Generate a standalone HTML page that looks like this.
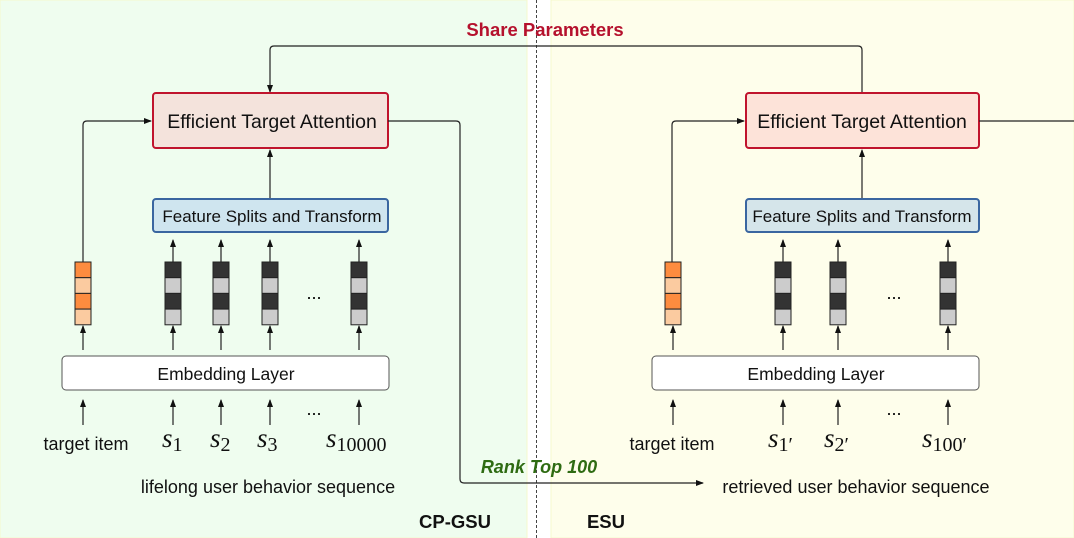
<!DOCTYPE html>
<html><head><meta charset="utf-8"><style>
body{margin:0;background:#fff;}
svg{display:block;font-family:"Liberation Sans",sans-serif;}
</style></head><body>
<svg width="1074" height="538" viewBox="0 0 1074 538" xmlns="http://www.w3.org/2000/svg">
<defs>
<marker id="a" markerWidth="8" markerHeight="8" refX="7" refY="4" orient="auto" markerUnits="userSpaceOnUse">
<path d="M0,1 L8,4 L0,7 Z" fill="#111"/></marker>
<g id="orv">
<rect x="0" y="0" width="16" height="15.7" fill="#fd8c3f" stroke="#222" stroke-width="1"/>
<rect x="0" y="15.7" width="16" height="15.7" fill="#fbcba0" stroke="#222" stroke-width="1"/>
<rect x="0" y="31.4" width="16" height="15.7" fill="#fd8c3f" stroke="#222" stroke-width="1"/>
<rect x="0" y="47.1" width="16" height="15.7" fill="#fbcba0" stroke="#222" stroke-width="1"/>
</g>
<g id="gv">
<rect x="0" y="0" width="16" height="15.7" fill="#333" stroke="#222" stroke-width="1"/>
<rect x="0" y="15.7" width="16" height="15.7" fill="#ccc" stroke="#222" stroke-width="1"/>
<rect x="0" y="31.4" width="16" height="15.7" fill="#333" stroke="#222" stroke-width="1"/>
<rect x="0" y="47.1" width="16" height="15.7" fill="#ccc" stroke="#222" stroke-width="1"/>
</g>
</defs>
<rect x="0" y="0" width="527" height="538" fill="#effdef" stroke="#f6f9cc"/>
<rect x="551" y="0" width="523" height="538" fill="#fefeeb" stroke="#f6f9cc"/>
<line x1="536.5" y1="0" x2="536.5" y2="538" stroke="#444" stroke-dasharray="3,2"/>

<text x="545" y="36" font-size="18.5" font-weight="bold" fill="#b5112d" text-anchor="middle">Share Parameters</text>
<path d="M862,93 L862,50 Q862,46 858,46 L274,46 Q270,46 270,50 L270,92" fill="none" stroke="#222" stroke-width="1.2" marker-end="url(#a)"/>

<!-- LEFT -->
<rect x="153" y="93" width="235" height="55" rx="3" fill="#f4e3dc" stroke="#c0142d" stroke-width="2"/>
<text x="272" y="128" font-size="19.5" text-anchor="middle" fill="#111">Efficient Target Attention</text>
<rect x="153" y="199" width="235" height="33" rx="3" fill="#cfe5ef" stroke="#3a66a0" stroke-width="2"/>
<text x="272" y="222" font-size="17" text-anchor="middle" fill="#111">Feature Splits and Transform</text>
<line x1="270" y1="198" x2="270" y2="150" stroke="#222" stroke-width="1.2" marker-end="url(#a)"/>
<path d="M83,262 L83,125 Q83,121 87,121 L151,121" fill="none" stroke="#222" stroke-width="1.2" marker-end="url(#a)"/>
<path d="M388,121 L456,121 Q460,121 460,125 L460,479 Q460,483 464,483 L703,483" fill="none" stroke="#222" stroke-width="1.2" marker-end="url(#a)"/>
<use href="#orv" x="75" y="262"/>
<use href="#gv" x="165" y="262"/><use href="#gv" x="213" y="262"/><use href="#gv" x="262" y="262"/><use href="#gv" x="351" y="262"/>
<g stroke="#222" stroke-width="1.2">
<line x1="173" y1="262" x2="173" y2="240" marker-end="url(#a)"/>
<line x1="221" y1="262" x2="221" y2="240" marker-end="url(#a)"/>
<line x1="270" y1="262" x2="270" y2="240" marker-end="url(#a)"/>
<line x1="359" y1="262" x2="359" y2="240" marker-end="url(#a)"/>
<line x1="83" y1="350" x2="83" y2="326" marker-end="url(#a)"/>
<line x1="173" y1="350" x2="173" y2="326" marker-end="url(#a)"/>
<line x1="221" y1="350" x2="221" y2="326" marker-end="url(#a)"/>
<line x1="270" y1="350" x2="270" y2="326" marker-end="url(#a)"/>
<line x1="359" y1="350" x2="359" y2="326" marker-end="url(#a)"/>
<line x1="83" y1="425" x2="83" y2="400" marker-end="url(#a)"/>
<line x1="173" y1="425" x2="173" y2="400" marker-end="url(#a)"/>
<line x1="221" y1="425" x2="221" y2="400" marker-end="url(#a)"/>
<line x1="270" y1="425" x2="270" y2="400" marker-end="url(#a)"/>
<line x1="359" y1="425" x2="359" y2="400" marker-end="url(#a)"/>
</g>
<text x="314" y="299" font-size="18" text-anchor="middle">...</text>
<text x="314" y="415" font-size="18" text-anchor="middle">...</text>
<rect x="62" y="356" width="327" height="34" rx="4" fill="#fff" stroke="#555" stroke-width="1"/>
<text x="226" y="380" font-size="17.5" text-anchor="middle" fill="#111">Embedding Layer</text>
<text x="86" y="450" font-size="18" text-anchor="middle" fill="#111">target item</text>
<g font-family="'Liberation Serif',serif" font-style="italic" fill="#111">
<text x="162" y="447" font-size="27">s<tspan font-style="normal" font-size="20" dy="4">1</tspan></text>
<text x="210" y="447" font-size="27">s<tspan font-style="normal" font-size="20" dy="4">2</tspan></text>
<text x="257" y="447" font-size="27">s<tspan font-style="normal" font-size="20" dy="4">3</tspan></text>
<text x="326" y="447" font-size="27">s<tspan font-style="normal" font-size="20" dy="4">10000</tspan></text>
</g>
<text x="268" y="493" font-size="18" text-anchor="middle" fill="#111">lifelong user behavior sequence</text>
<text x="539" y="473" font-size="18" font-weight="bold" font-style="italic" fill="#2e6b12" text-anchor="middle">Rank Top 100</text>
<text x="455" y="528" font-size="18.5" font-weight="bold" fill="#111" text-anchor="middle">CP-GSU</text>
<text x="606" y="528" font-size="18.5" font-weight="bold" fill="#111" text-anchor="middle">ESU</text>

<!-- RIGHT -->
<rect x="746" y="93" width="233" height="55" rx="3" fill="#fde3d9" stroke="#c0142d" stroke-width="2"/>
<text x="862" y="128" font-size="19.5" text-anchor="middle" fill="#111">Efficient Target Attention</text>
<rect x="746" y="199" width="233" height="33" rx="3" fill="#d5e5ea" stroke="#3a66a0" stroke-width="2"/>
<text x="862" y="222" font-size="17" text-anchor="middle" fill="#111">Feature Splits and Transform</text>
<line x1="862" y1="198" x2="862" y2="150" stroke="#222" stroke-width="1.2" marker-end="url(#a)"/>
<path d="M672,262 L672,125 Q672,121 676,121 L744,121" fill="none" stroke="#222" stroke-width="1.2" marker-end="url(#a)"/>
<line x1="979" y1="121" x2="1074" y2="121" stroke="#222" stroke-width="1.2"/>
<use href="#orv" x="665" y="262"/>
<use href="#gv" x="775" y="262"/><use href="#gv" x="830" y="262"/><use href="#gv" x="940" y="262"/>
<g stroke="#222" stroke-width="1.2">
<line x1="783" y1="262" x2="783" y2="240" marker-end="url(#a)"/>
<line x1="838" y1="262" x2="838" y2="240" marker-end="url(#a)"/>
<line x1="948" y1="262" x2="948" y2="240" marker-end="url(#a)"/>
<line x1="673" y1="350" x2="673" y2="326" marker-end="url(#a)"/>
<line x1="783" y1="350" x2="783" y2="326" marker-end="url(#a)"/>
<line x1="838" y1="350" x2="838" y2="326" marker-end="url(#a)"/>
<line x1="948" y1="350" x2="948" y2="326" marker-end="url(#a)"/>
<line x1="673" y1="425" x2="673" y2="400" marker-end="url(#a)"/>
<line x1="783" y1="425" x2="783" y2="400" marker-end="url(#a)"/>
<line x1="838" y1="425" x2="838" y2="400" marker-end="url(#a)"/>
<line x1="948" y1="425" x2="948" y2="400" marker-end="url(#a)"/>
</g>
<text x="894" y="299" font-size="18" text-anchor="middle">...</text>
<text x="894" y="415" font-size="18" text-anchor="middle">...</text>
<rect x="652" y="356" width="327" height="34" rx="4" fill="#fff" stroke="#555" stroke-width="1"/>
<text x="816" y="380" font-size="17.5" text-anchor="middle" fill="#111">Embedding Layer</text>
<text x="672" y="450" font-size="18" text-anchor="middle" fill="#111">target item</text>
<g font-family="'Liberation Serif',serif" font-style="italic" fill="#111">
<text x="768" y="447" font-size="27">s<tspan font-style="normal" font-size="20" dy="4">1′</tspan></text>
<text x="824" y="447" font-size="27">s<tspan font-style="normal" font-size="20" dy="4">2′</tspan></text>
<text x="922" y="447" font-size="27">s<tspan font-style="normal" font-size="20" dy="4">100′</tspan></text>
</g>
<text x="856" y="493" font-size="18" text-anchor="middle" fill="#111">retrieved user behavior sequence</text>
</svg>
</body></html>
